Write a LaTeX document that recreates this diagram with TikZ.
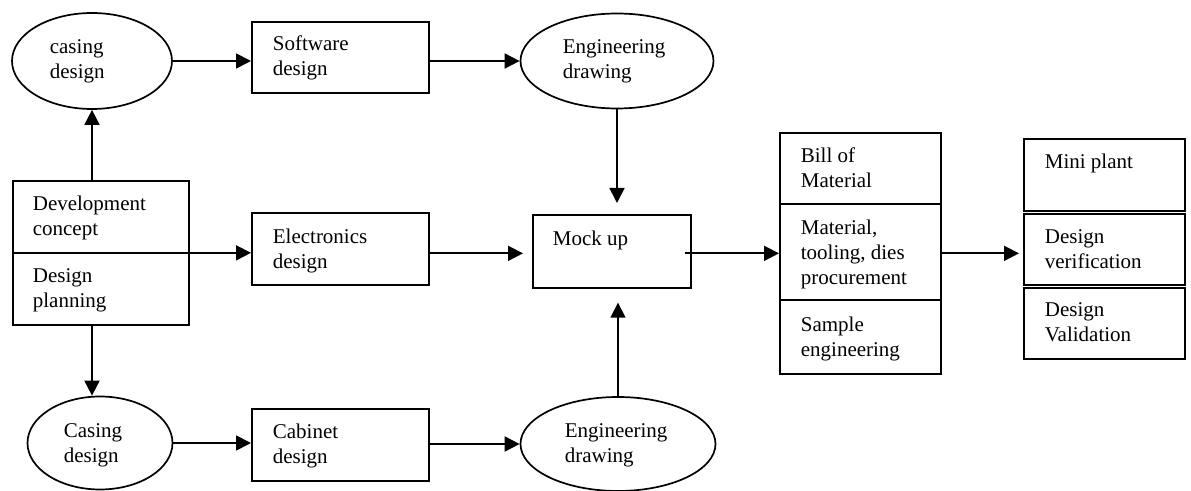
\documentclass[tikz,border=0pt]{standalone}
\usepackage{fontspec}
\setmainfont{Liberation Serif}
\usetikzlibrary{arrows.meta,calc,shapes.geometric}

\begin{document}
\begin{tikzpicture}[x=0.5pt,y=-0.5pt,
  line width=0.85pt,
  box/.style={draw, rectangle, inner sep=0pt, anchor=north west},
  oval/.style={draw, ellipse, inner sep=0pt},
  lbl/.style={anchor=north west, inner sep=0pt, align=left, yshift=8.75pt,
              font=\fontsize{10.5}{12.5}\selectfont},
  flow/.style={-{Triangle[length=7.5pt,width=7.5pt]}},
]
\path[use as bounding box] (0,0) rectangle (1191,491);

% shapes
\node[oval, minimum width=80pt, minimum height=48pt] (casingTop) at (92,61) {};
\node[box, minimum width=88.5pt, minimum height=35.5pt] (software) at (251,21) {};
\node[oval, minimum width=96.5pt, minimum height=47.5pt] (drawTop) at (617,61) {};
\node[box, minimum width=88pt, minimum height=72pt] (devel) at (12,180) {};
\node[box, minimum width=88.5pt, minimum height=36pt] (electronics) at (251,212) {};
\node[box, minimum width=79pt, minimum height=36.5pt] (mockup) at (532,214) {};
\node[box, minimum width=80.5pt, minimum height=120.5pt] (bom) at (779,132) {};
\node[box, minimum width=80.5pt, minimum height=36pt] (plant) at (1023,138) {};
\node[box, minimum width=80.5pt, minimum height=35.5pt] (verif) at (1023,213) {};
\node[box, minimum width=80.5pt, minimum height=35.5pt] (valid) at (1023,287) {};
\node[oval, minimum width=72.5pt, minimum height=46.5pt] (casingBot) at (100,443) {};
\node[box, minimum width=88.5pt, minimum height=36pt] (cabinet) at (251,408) {};
\node[oval, minimum width=97.5pt, minimum height=47pt] (drawBot) at (618,444) {};

% section dividers
\draw (devel.west) -- (devel.east);
\draw ($(bom.north west)+(0,72)$) -- ($(bom.north east)+(0,72)$);
\draw ($(bom.north west)+(0,168)$) -- ($(bom.north east)+(0,168)$);

% labels
\node[lbl] (tCasingTop) at (49,53) {\strut casing\\design};
\node[lbl] (tSoftware) at (272,50) {\strut Software\\design};
\node[lbl] (tDrawTop) at (562,53) {\strut Engineering\\drawing};
\node[lbl] (tDevel) at (32,210) {\strut Development\\concept};
\node[lbl] (tPlanning) at (32,282) {\strut Design\\planning};
\node[lbl] (tElectronics) at (272,243) {\strut Electronics\\design};
\node[lbl] (tMockup) at (552,245) {\strut Mock up};
\node[lbl] (tBom) at (800,162) {\strut Bill of\\Material};
\node[lbl] (tProcure) at (800,234) {\strut Material,\\tooling, dies\\procurement};
\node[lbl] (tSample) at (800,331) {\strut Sample\\engineering};
\node[lbl] (tPlant) at (1044,168) {\strut Mini plant};
\node[lbl] (tVerif) at (1044,243) {\strut Design\\verification};
\node[lbl] (tValid) at (1044,316) {\strut Design\\Validation};
\node[lbl] (tCasingBot) at (63,437) {\strut Casing\\design};
\node[lbl] (tCabinet) at (272,438) {\strut Cabinet\\design};
\node[lbl] (tDrawBot) at (564,437) {\strut Engineering\\drawing};

% connectors
\draw[flow] (casingTop.south |- devel.north) -- (casingTop.south);
\draw[flow] (casingTop.east) -- (casingTop.east -| software.west);
\draw[flow] (software.east |- drawTop.west) -- (drawTop.west);
\draw[flow, shorten >=5.5pt] (drawTop.south) -- (drawTop.south |- mockup.north);
\draw[flow] (devel.east) -- (devel.east -| electronics.west);
\draw[flow, shorten >=4.5pt] (electronics.east |- bom.west) -- (mockup.west |- bom.west);
\draw[flow, shorten <=-3.5pt] (mockup.east |- bom.west) -- (bom.west);
\draw[flow, shorten >=7pt] (drawBot.north) -- (drawBot.north |- mockup.south);
\draw[flow, shorten >=2pt] (bom.east) -- (bom.east -| verif.west);
\draw[flow] (casingTop.south |- devel.south) -- (casingTop.south |- casingBot.north);
\draw[flow] (casingBot.east) -- (casingBot.east -| cabinet.west);
\draw[flow] (cabinet.east |- drawBot.west) -- (drawBot.west);
\end{tikzpicture}
\end{document}
